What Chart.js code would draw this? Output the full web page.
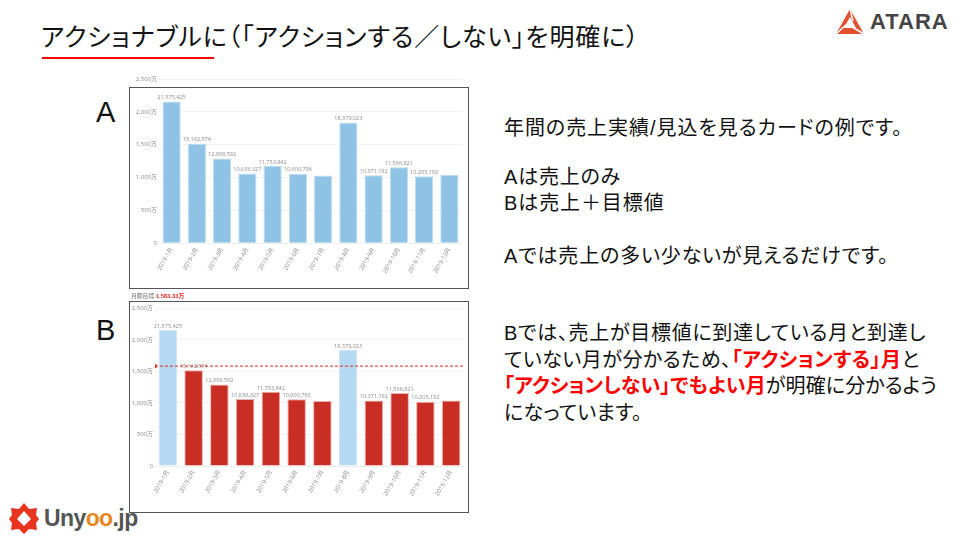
<!DOCTYPE html>
<html lang="ja"><head><meta charset="utf-8">
<script src="https://cdn.jsdelivr.net/npm/chart.js@4"></script>
<style>
html,body{margin:0;padding:0;background:#fff;width:960px;height:540px;overflow:hidden}
body{position:relative;font-family:"Liberation Sans","Noto Sans CJK JP",sans-serif;color:#111}
.t{position:absolute;white-space:nowrap;line-height:1}
.p{font-size:20px;font-feature-settings:"palt"}
.c{position:absolute;filter:blur(0.35px)}
.f{position:absolute;border:1px solid #555;box-sizing:border-box;pointer-events:none}
b.r{color:#f00}
</style></head><body>
<div class="t" style="left:41px;top:25px;font-size:25px;font-feature-settings:'palt';letter-spacing:0.9px">アクショナブルに（「アクションする／しない」を明確に）</div>
<div style="position:absolute;left:42px;top:57px;width:172px;height:2px;background:#f00"></div>
<svg style="position:absolute;left:835px;top:8px" width="30" height="28" viewBox="0 0 30 28">
<polygon points="15,1 29,26 1,26" fill="#e2502f"/>
<polygon points="15,9 21,20 9,20" fill="#fff"/>
<path d="M15 1 L18 13 M29 26 L17 19 M1 26 L12 16" stroke="#fff" stroke-width="1.5"/>
</svg>
<div class="t" style="left:870px;top:11px;font-size:22px;font-weight:bold;letter-spacing:1px;color:#444">ATARA</div>
<svg style="position:absolute;left:9px;top:503px" width="30" height="31" viewBox="0 0 30 31">
<polygon points="15,0 20,6 28,5 27,12 30,16 27,20 28,27 20,26 15,31 10,26 2,27 3,20 0,16 3,12 2,5 10,6" fill="#e8341f"/>
<polygon points="15,8 22,16 15,23 8,16" fill="#fff"/>
</svg>
<div class="t" style="left:44px;top:507px;font-size:23px;font-weight:bold;color:#555;letter-spacing:-0.6px">Uny<span style="color:#e8861f">oo</span>.jp</div>

<div class="t" style="left:96px;top:98px;font-size:29px">A</div>
<div class="t" style="left:96px;top:316px;font-size:29px">B</div>

<canvas id="chartA" class="c" style="left:125px;top:70px"></canvas>
<div class="f" style="left:129px;top:87px;width:340px;height:202px"></div>
<div class="t" style="left:131px;top:294px;font-size:5.8px;color:#777;filter:blur(0.3px)">月額目標 <b style="color:#e02a20">1,583.33万</b></div>
<canvas id="chartB" class="c" style="left:125px;top:290px"></canvas>
<div class="f" style="left:129px;top:301px;width:340px;height:212px"></div>

<div class="t p" style="left:504px;top:118px;letter-spacing:.95px">年間の売上実績/見込を見るカードの例です。</div>
<div class="t p" style="left:504px;top:167px;letter-spacing:.8px">Aは売上のみ</div>
<div class="t p" style="left:504px;top:193px;letter-spacing:.9px">Bは売上＋目標値</div>
<div class="t p" style="left:504px;top:246px;letter-spacing:.85px">Aでは売上の多い少ないが見えるだけです。</div>
<div class="t p" style="left:504px;top:323px;letter-spacing:.7px">Bでは、売上が目標値に到達している月と到達し</div>
<div class="t p" style="left:504px;top:350px;letter-spacing:.5px">ていない月が分かるため、<b class="r">「アクションする」月</b>と</div>
<div class="t p" style="left:504px;top:376px;letter-spacing:.1px"><b class="r">「アクションしない」でもよい月</b>が明確に分かるよう</div>
<div class="t p" style="left:504px;top:403px;letter-spacing:.3px">になっています。</div>

<script>
const categories = ["2019-1月","2019-2月","2019-3月","2019-4月","2019-5月","2019-6月","2019-7月","2019-8月","2019-9月","2019-10月","2019-11月","2019-12月"];
const salesValues = [21575425,15162574,12906592,10636327,11753842,10600796,10300000,18379023,10371192,11566821,10205192,10400000];
const barLabels = ["21,575,425","15,162,574","12,906,592","10,636,327","11,753,842","10,600,796","","18,379,023","10,371,192","11,566,821","10,205,192",""];
const yTickLabels = ["0","500万","1,000万","1,500万","2,000万","2,500万"];
const yTickStep = 5000000;
const yMax = 25000000;
const monthlyTarget = 15833300;

Chart.defaults.animation = false;
const FONT = '"Open Sans","Noto Sans CJK JP",sans-serif';

const labelPlugin = {
  id:'barValues',
  afterDatasetsDraw(chart){
    const {ctx} = chart, meta = chart.getDatasetMeta(0);
    ctx.save();
    ctx.font = '5.5px '+FONT; ctx.fillStyle='#8a8a8a'; ctx.textAlign='center'; ctx.textBaseline='bottom';
    meta.data.forEach((el,i)=>{ if(barLabels[i]) ctx.fillText(barLabels[i], el.x, el.y-1); });
    ctx.restore();
  }
};
const targetPlugin = {
  id:'targetLine',
  afterDatasetsDraw(chart){
    const {ctx,chartArea:a,scales:{y}} = chart, py = y.getPixelForValue(monthlyTarget);
    ctx.save();
    ctx.strokeStyle='#e02a20'; ctx.lineWidth=1; ctx.setLineDash([3,2]);
    ctx.beginPath(); ctx.moveTo(a.left,py); ctx.lineTo(a.right,py); ctx.stroke();
    ctx.setLineDash([]); ctx.fillStyle='#e02a20';
    ctx.fillRect(a.left,py-2,1.5,4);
    ctx.restore();
  }
};
function build(id,w,h,left,top,right,bottom,bg,border,plugins){
  const cv=document.getElementById(id); cv.style.width=w+'px'; cv.style.height=h+'px';
  return new Chart(cv,{
    type:'bar',
    data:{labels:categories,datasets:[{data:salesValues,backgroundColor:bg,borderColor:border,borderWidth:1,barPercentage:0.72,categoryPercentage:1}]},
    plugins,
    options:{
      responsive:false,devicePixelRatio:1,
      layout:{padding:{top,right:w-right,left:0,bottom:0}},
      plugins:{legend:{display:false},tooltip:{enabled:false}},
      scales:{
        x:{
          afterFit(s){s.height=h-bottom;},
          grid:{display:false,drawTicks:false},
          border:{display:true,color:'#eeeeee'},
          ticks:{autoSkip:false,minRotation:60,maxRotation:60,color:'#8a8a8a',padding:3,font:{size:6,family:FONT}}
        },
        y:{
          min:0,max:yMax,
          afterFit(s){s.width=left;},
          grid:{color:'#f1f1f1',drawTicks:false},
          border:{display:false},
          ticks:{stepSize:yTickStep,padding:2,color:'#8a8a8a',font:{size:6,family:FONT},
            callback:(v)=>yTickLabels[v/yTickStep]}
        }
      }
    }
  });
}
function sized(id,w,h){const c=document.getElementById(id);c.width=w;c.height=h;}
sized('chartA',350,225); sized('chartB',350,225);
build('chartA',350,225,34,9,337,173.3,'#8fc3e5','#badcf2',[labelPlugin]);
build('chartB',350,225,30,18.3,339,176,
  salesValues.map(v=>v>monthlyTarget?'#b5d8f3':'#c92e24'),
  salesValues.map(v=>v>monthlyTarget?'#cfe6f8':'#eeb0aa'),
  [labelPlugin,targetPlugin]);
</script>
</body></html>
